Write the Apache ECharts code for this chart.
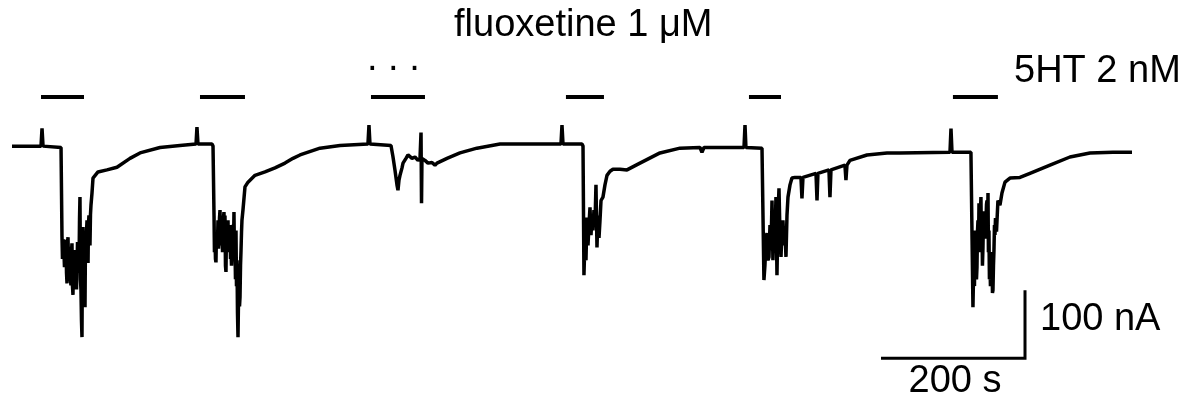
<!DOCTYPE html>
<html>
<head>
<meta charset="utf-8">
<title>5HT 2 nM / fluoxetine trace</title>
<script src="https://cdn.jsdelivr.net/npm/echarts@6/dist/echarts.min.js"></script>
<style>
html, body { margin: 0; padding: 0; background: #fff; }
#chart { width: 1187px; height: 401px; }
</style>
</head>
<body>
<div id="chart"></div>
<script>
// membrane current trace, one pair of arrays per 5HT application: time (s), current (nA)
const sweep1Time = [
    0, 40.3, 41.7, 43.1, 68.1,
    69.4, 70.1, 70.8, 71.5, 72.2, 72.9, 73.6, 74.3, 75, 75.7,
    76.4, 77.1, 77.8, 78.5, 79.2, 79.9, 80.6, 81.2, 81.9, 82.6,
    83.3, 84, 84.7, 85.4, 86.1, 86.8, 87.5, 88.2, 88.9, 89.6,
    90.3, 91, 91.7, 92.4, 93.1, 93.8, 94.4, 95.1, 95.8, 96.5,
    97.2, 97.9, 98.6, 99.3, 100, 100.7, 101.4, 102.1, 102.8, 103.5,
    104.2, 104.9, 105.6, 106.2, 106.9, 107.6, 108.3, 109, 109.7, 111.1,
    112.5, 119.4, 131.9, 145.8, 163.9, 177.8, 205.6, 233.3, 255.6, 256.9, 258.3, 277.8
];
const sweep1Current = [
    6, 6, 32, 6, 4,
    -125, -160, -151, -131, -129, -172, -165, -135, -132, -180,
    -196, -140, -128, -178, -184, -142, -140, -190, -199, -150,
    -137, -200, -213, -150, -147, -188, -191, -150, -154, -205,
    -203, -135, -140, -180, -169, -100, -69, -190, -206, -250,
    -275, -132, -113, -200, -221, -180, -231, -125, -162, -120,
    -103, -150, -166, -110, -96, -130, -140, -95, -81, -63,
    -41, -32, -29, -25, -12, -4, 4, 7, 9, 34, 9, 9
];

const sweep2Time = [
    279.2,
    280.6, 281.2, 281.9, 282.6, 283.3, 284, 284.7, 285.4, 286.1, 286.8,
    287.5, 288.2, 288.9, 289.6, 290.3, 291, 291.7, 292.4, 293.1, 293.8,
    294.4, 295.1, 295.8, 296.5, 297.2, 297.9, 298.6, 299.3, 300, 300.7,
    301.4, 302.1, 302.8, 303.5, 304.2, 304.9, 305.6, 306.2, 306.9, 307.6,
    308.3, 309, 309.7, 310.4, 311.1, 311.8, 312.5, 313.2, 313.9, 314.6,
    315.3, 316, 316.7, 317.4, 318.1, 318.8, 319.4, 320.8,
    323.6, 327.8, 337.5, 351.4, 365.3, 379.2, 390.3, 400, 427.8, 455.6, 494.4, 495.8, 497.2, 526.4
];
const sweep2Current = [
    6,
    -96, -150, -125, -160, -165, -120, -118, -140, -103, -145,
    -132, -100, -88, -140, -125, -100, -96, -150, -143, -100,
    -91, -130, -96, -170, -179, -120, -110, -150, -103, -150,
    -140, -115, -110, -160, -147, -170, -151, -115, -110, -150,
    -91, -160, -140, -190, -118, -200, -162, -240, -275, -220,
    -176, -230, -216, -170, -147, -120, -103, -88,
    -54, -47, -37, -32, -26, -19, -12, -7, 3, 7, 9, 37, 9, 7
];

const sweep3Time = [
    527.8, 529.2, 531.9, 534.7, 536.1, 537.5, 538.9, 541.7, 543.1, 547.2,
    550, 555.6, 559.7, 563.9, 566.7, 568.1, 568.8, 569.4, 573.6, 577.8,
    583.3, 587.5, 590.3, 604.2, 622.2, 645.8, 677.8, 715.3, 751.4, 762.5,
    763.9, 765.3, 791.7
];
const sweep3Current = [
    6, -10, -29, -51, -59, -44, -37, -26, -19, -12,
    -7, -12, -10, -15, -12, 26, -78, -12, -15, -19,
    -18, -22, -19, -12, -4, 3, 9, 9, 9, 9,
    37, 9, 9
];

const sweep4Time = [
    793.1, 794.4, 795.8, 797.2, 798.6, 800, 801.4, 802.8, 804.2, 805.6,
    806.9, 808.3, 809.7, 811.1, 812.5, 813.9, 815.3, 816.7, 818.1, 820.8,
    823.6, 826.4, 830.6, 834.7, 844.4, 854.2, 872.2, 900, 927.8, 955.6,
    958.3, 961.1, 993.1, 1016.7, 1018.1, 1019.4, 1041.7
];
const sweep4Current = [
    6, -184, -132, -162, -99, -140, -110, -84, -125, -96,
    -118, -88, -110, -51, -143, -96, -129, -103, -74, -69,
    -51, -37, -31, -28, -28, -29, -19, -4, 3, 4,
    -3, 4, 4, 4, 37, 4, 3
];

const sweep5Time = [
    1043.1, 1044.4, 1045.8, 1047.2, 1048.6, 1050, 1051.4, 1052.8, 1054.2, 1055.6,
    1056.9, 1058.3, 1059.7, 1061.1, 1062.5, 1063.9, 1065.3, 1066.7, 1068.1, 1069.4,
    1070.8, 1072.2, 1073.6, 1075, 1076.4, 1077.8, 1080.6, 1083.3, 1087.5, 1095.8,
    1097.2, 1098.6, 1116.7, 1118.1, 1119.4, 1134.7, 1136.1, 1137.5, 1156.9, 1158.3,
    1159.7, 1163.9, 1187.5, 1215.3, 1233.3, 1302.8, 1304.2, 1305.6, 1331.9
];
const sweep5Current = [
    3, -191, -169, -132, -122, -162, -157, -110, -147, -74,
    -162, -110, -132, -69, -184, -96, -56, -125, -157, -118,
    -103, -140, -118, -157, -96, -69, -51, -41, -40, -40,
    -71, -40, -34, -74, -34, -29, -69, -29, -22, -44,
    -22, -15, -7, -4, -4, -3, 32, -3, -3
];

const sweep6Time = [
    1333.3,
    1334.7, 1335.4, 1336.1, 1336.8, 1337.5, 1338.2, 1338.9, 1339.6, 1340.3, 1341,
    1341.7, 1342.4, 1343.1, 1343.8, 1344.4, 1345.1, 1345.8, 1346.5, 1347.2, 1347.9,
    1348.6, 1349.3, 1350, 1350.7, 1351.4, 1352.1, 1352.8, 1353.5, 1354.2, 1354.9,
    1355.6, 1356.2, 1356.9, 1357.6, 1358.3, 1359, 1359.7, 1360.4, 1361.1, 1361.8,
    1362.5, 1363.2, 1363.9, 1364.6, 1365.3, 1366, 1366.7, 1367.4, 1368.1, 1369.4,
    1372.2, 1375, 1379.2, 1386.1, 1400, 1413.9, 1441.7, 1469.4, 1497.2, 1529.2, 1555.6
];
const sweep6Current = [
    -3,
    -231, -190, -162, -200, -118, -170, -147, -190, -172, -120,
    -103, -140, -78, -150, -132, -90, -69, -140, -110, -170,
    -143, -100, -118, -90, -88, -130, -103, -80, -74, -130,
    -63, -150, -118, -190, -162, -200, -184, -150, -154, -210,
    -206, -170, -147, -110, -125, -100, -103, -120, -118, -74,
    -81, -63, -47, -41, -40, -34, -22, -10, -4, -3, -3
];

// 5HT 2 nM applications (s)
const stimOn = [40.3, 261.1, 498.6, 769.4, 1023.6, 1306.9];
const stimOff = [100, 323.6, 573.6, 822.2, 1068.1, 1369.4];
const stimLevel = 79;

// scale bars: 200 s and 100 nA
const scaleTime = [1207, 1407];
const scaleCurrent = [-306, -206];

const traceTime = [].concat(sweep1Time, sweep2Time, sweep3Time, sweep4Time, sweep5Time, sweep6Time);
const traceCurrent = [].concat(sweep1Current, sweep2Current, sweep3Current, sweep4Current, sweep5Current, sweep6Current);

const chart = echarts.init(document.getElementById("chart"));

const font = "'Liberation Sans', Arial, sans-serif";
const txt = (text, x, y, align) => ({
    type: "text",
    x: x,
    y: y,
    style: {
        text: text,
        fill: "#000",
        font: "38px " + font,
        align: align || "left",
        verticalAlign: "middle"
    }
});

chart.setOption({
    animation: false,
    grid: { left: 12, right: 54, top: 0, bottom: 0 },
    xAxis: { type: "value", min: 0, max: 1557, show: false },
    yAxis: { type: "value", min: -369, max: 221, show: false },
    series: [
        {
            type: "line",
            data: traceTime.map((t, i) => [t, traceCurrent[i]]),
            showSymbol: false,
            silent: true,
            lineStyle: { color: "#000", width: 3.5 }
        },
        {
            type: "lines",
            coordinateSystem: "cartesian2d",
            silent: true,
            data: stimOn.map((on, i) => ({ coords: [[on, stimLevel], [stimOff[i], stimLevel]] })),
            lineStyle: { color: "#000", width: 4, opacity: 1 }
        },
        {
            type: "lines",
            coordinateSystem: "cartesian2d",
            polyline: true,
            silent: true,
            data: [{
                coords: [
                    [scaleTime[0], scaleCurrent[0]],
                    [scaleTime[1], scaleCurrent[0]],
                    [scaleTime[1], scaleCurrent[1]]
                ]
            }],
            lineStyle: { color: "#000", width: 3, opacity: 1 }
        }
    ],
    graphic: [
        txt("fluoxetine 1 \u03bcM", 454, 26),
        txt(". . .", 367, 60),
        txt("5HT 2 nM", 1014, 72),
        txt("100 nA", 1040, 320),
        txt("200 s", 955, 382, "center")
    ]
});
</script>
</body>
</html>
